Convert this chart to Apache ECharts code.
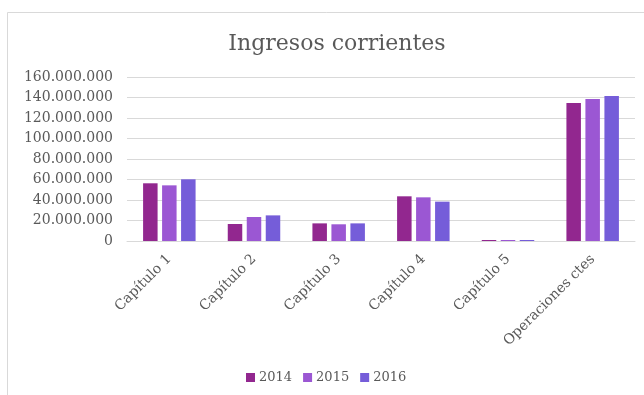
<!DOCTYPE html>
<html>
<head>
<meta charset="utf-8">
<script src="https://cdn.jsdelivr.net/npm/echarts@6/dist/echarts.min.js"></script>
<style>
  html, body { margin: 0; padding: 0; background: #ffffff; }
  #chart { width: 644px; height: 395px; }
</style>
</head>
<body>
<div id="chart"></div>
<script>
// Categories and yearly current revenue (euros)
const categories = ['Capítulo 1', 'Capítulo 2', 'Capítulo 3', 'Capítulo 4', 'Capítulo 5', 'Operaciones ctes'];
const seriesNames = ['2014', '2015', '2016'];
const values2014 = [56300000, 16600000, 17200000, 43600000, 1000000, 134600000];
const values2015 = [54300000, 23400000, 16300000, 42600000, 1000000, 138500000];
const values2016 = [60200000, 25000000, 17200000, 38400000, 1000000, 141500000];
const colors = ['#92278F', '#9B57D3', '#755DD9'];

const font = "'DejaVu Serif', Georgia, serif";
const textColor = '#595959';

function formatThousands(v) {
  return String(Math.round(v)).replace(/\B(?=(\d{3})+(?!\d))/g, '.');
}

const chart = echarts.init(document.getElementById('chart'), null, { renderer: 'canvas' });

const seriesData = [values2014, values2015, values2016];

chart.setOption({
  animation: false,
  backgroundColor: '#ffffff',
  color: colors,
  graphic: [{
    type: 'rect',
    shape: { x: 7.5, y: 12.5, width: 700, height: 500 },
    style: { fill: 'none', stroke: '#d9d9d9', lineWidth: 1 },
    silent: true
  }],
  title: {
    text: 'Ingresos corrientes',
    left: 332,
    textAlign: 'center',
    top: 28,
    textStyle: { fontFamily: font, fontSize: 22, fontWeight: 'normal', color: textColor }
  },
  legend: {
    data: seriesNames,
    bottom: 6,
    left: 241,
    itemWidth: 9,
    itemHeight: 9,
    itemGap: 11,
    icon: 'rect',
    textStyle: { fontFamily: font, fontSize: 13, color: textColor, padding: [0, 0, 0, -1] }
  },
  grid: { left: 127, right: 9, top: 77, bottom: 154, containLabel: false },
  xAxis: {
    type: 'category',
    data: categories,
    axisLine: { lineStyle: { color: '#d9d9d9', width: 1 } },
    axisTick: { show: false },
    axisLabel: { rotate: 45, margin: 16, fontFamily: font, fontSize: 14, color: textColor, interval: 0 }
  },
  yAxis: {
    type: 'value',
    min: 0,
    max: 160000000,
    interval: 20000000,
    axisLine: { show: false },
    axisTick: { show: false },
    splitLine: { lineStyle: { color: '#d9d9d9', width: 1 } },
    axisLabel: { margin: 14, fontFamily: font, fontSize: 14, color: textColor, formatter: formatThousands }
  },
  series: seriesNames.map((name, i) => ({
    name: name,
    type: 'bar',
    data: seriesData[i],
    barWidth: 14.5,
    barGap: '31%',
    itemStyle: { color: colors[i] }
  }))
});
</script>
</body>
</html>
